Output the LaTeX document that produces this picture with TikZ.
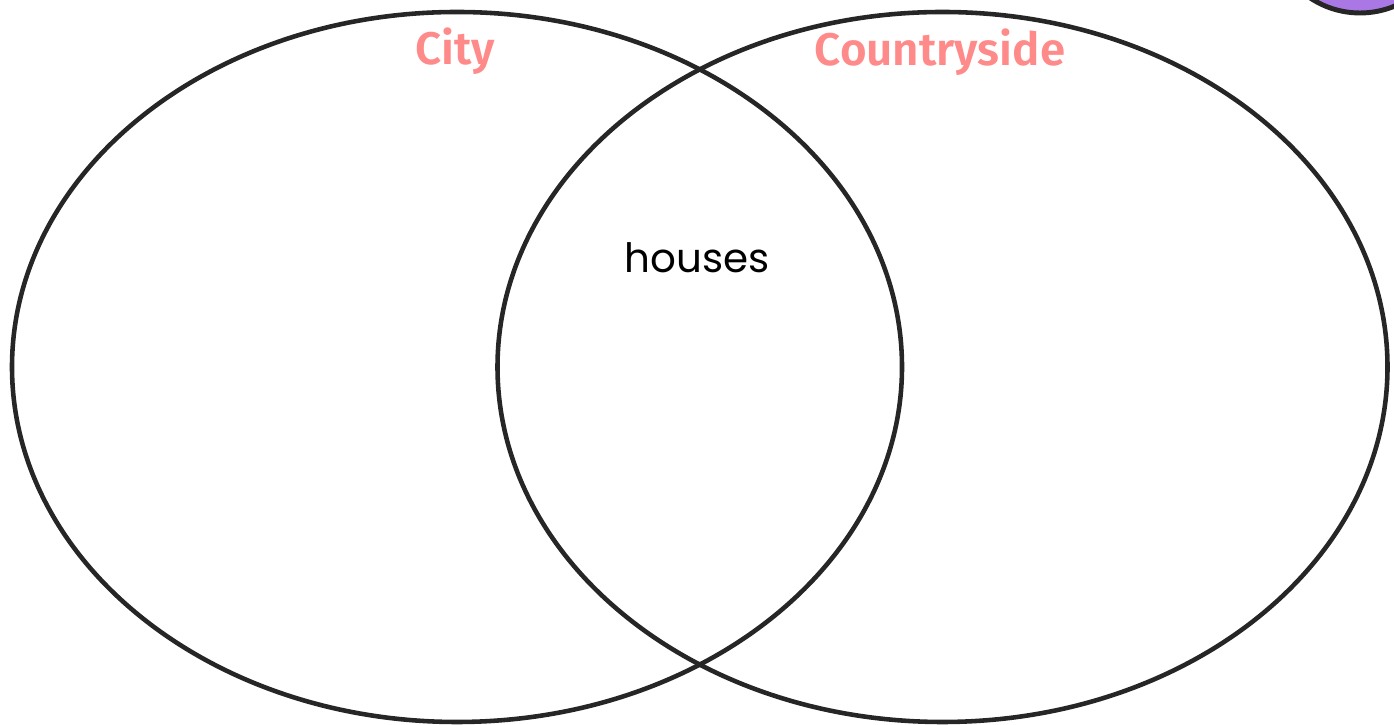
\documentclass[tikz,border=0pt]{standalone}
\usepackage{fontspec}
\setmainfont{Poppins}
\newfontfamily\labelfont{Fira Sans SemiBold}
\usepackage{tikz}
\usetikzlibrary{shapes.geometric}

\definecolor{labelpink}{RGB}{255,138,138}
\definecolor{bubblepurple}{RGB}{170,120,228}

\begin{document}
\begin{tikzpicture}[
        setring/.style={ellipse, draw=black!85, line width=2.6pt, inner sep=0pt, minimum width=17.8cm, minimum height=14.2cm},
        setlabel/.style={anchor=base, font=\labelfont\fontsize{26}{30}\selectfont, text=labelpink},
        item/.style={anchor=base, font=\fontsize{23}{26}\selectfont, text=black}
    ]
    \useasboundingbox (0, 0) rectangle (27.88, 14.5);
    \clip (0, 0) rectangle (27.88, 14.5);

    % Corner button (cut off by the page edge)
    \node[circle, draw=black!85, line width=2.8pt, fill=bubblepurple, minimum size=3.6cm] (button) at (27.2, 16.04) {};

    % The two sets
    \node[setring] (city) at (9.14, 7.16) {};
    \node[setring] (country) at (18.85, 7.16) {};

    % Set names
    \node[setlabel] (city_name) at (9.1, 13.2) {City};
    \node[setlabel] (country_name) at (18.8, 13.18) {Countryside};

    % Shared item
    \node[item] (houses) at (13.94, 9.04) {houses};

\end{tikzpicture}
\end{document}
